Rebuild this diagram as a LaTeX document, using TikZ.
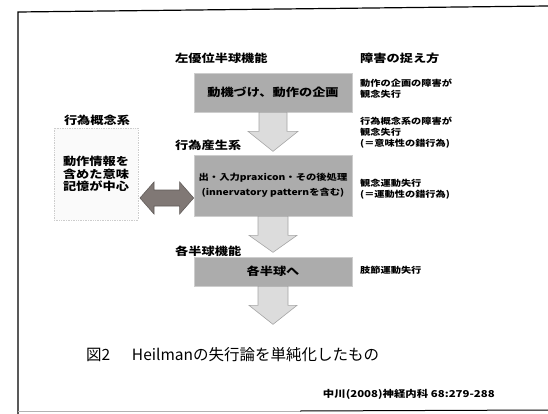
\documentclass[tikz,border=0pt]{standalone}
\usepackage{fontspec}
\setmainfont{Noto Sans CJK JP}[FakeStretch=1.2]
\newfontfamily\capfont{Noto Sans CJK JP}
\newfontfamily\narrowfont{Noto Sans CJK JP}[FakeStretch=1.0]
\usetikzlibrary{calc}
\definecolor{boxgray}{RGB}{172,172,172}
\definecolor{boxedge}{RGB}{205,205,205}
\definecolor{arrfill}{RGB}{220,220,220}
\definecolor{arredge}{RGB}{165,165,165}
\definecolor{darr}{RGB}{128,120,117}
\definecolor{darredge}{RGB}{95,90,88}
\begin{document}
\begin{tikzpicture}[x=1pt,y=-1pt,
  graybox/.style={draw=boxedge, fill=boxgray, line width=0.7pt, inner sep=0pt, align=center,
    font=\fontsize{11}{13}\selectfont\bfseries},
  lbox/.style={draw=boxedge, densely dotted, fill=gray!4, line width=0.7pt, inner sep=0pt, align=center,
    font=\fontsize{11}{12.5}\selectfont\bfseries},
  lbl/.style={inner sep=0pt, anchor=west, font=\fontsize{11}{13}\selectfont\bfseries},
  small/.style={inner sep=0pt, anchor=north west, align=left, font=\fontsize{8.5}{11}\selectfont\bfseries},
  blockarr/.style={draw=arredge, fill=arrfill, line width=0.6pt, line join=miter},
  pics/downarrow/.style n args={4}{code={
    \draw[blockarr] (-#1,0) -- (-#1,#2) -- (-#4,#2) -- (0,#3) -- (#4,#2) -- (#1,#2) -- (#1,0) -- cycle;}}
]
\useasboundingbox (0,0) rectangle (548,414);
% frame
\draw[line width=1.2pt] (548,6) -- (18,12) -- (18,414);
\draw[line width=0.8pt, gray!60] (18,411) -- (300,411);
\draw[line width=1pt] (300,411) -- (548,410);

% main boxes
\node[graybox, minimum width=158pt, minimum height=39pt] (b1) at (273,92.5) {動機づけ、動作の企画};
\node[graybox, minimum width=158pt, minimum height=61pt,
  font=\fontsize{8.6}{15}\selectfont\bfseries] (b2) at (273,185.5)
  {出・入力praxicon・その後処理\\(innervatory patternを含む)};
\node[graybox, minimum width=158pt, minimum height=29pt] (b3) at (273,271.5) {各半球へ};

% block arrows
\pic at (b1.south) {downarrow={14}{19}{39}{25}};
\pic at (b2.south) {downarrow={15}{19}{36}{24}};
\pic at (b3.south) {downarrow={15}{19}{38}{24}};

% left box
\node[lbox, minimum width=84pt, minimum height=92pt] (lb) at (96,174) {動作情報を\\含めた意味\\記憶が中心};

% double arrow
\coordinate (dl) at (140,198);
\coordinate (dr) at (b2.west |- dl);
\draw[fill=darr, draw=darredge, line width=0.6pt]
  (dl) -- ++(14,-16) -- ++(0,8) -- ($(dr)+(-14,-8)$) -- ++(0,-8) -- (dr)
  -- ++(-14,16) -- ++(0,-8) -- ($(dl)+(14,8)$) -- ++(0,8) -- cycle;

% labels
\node[lbl] (l1) at (175,58) {左優位半球機能};
\node[lbl] (l2) at (175,145) {行為産生系};
\node[lbl] (l3) at (175,251) {各半球機能};
\node[lbl, anchor=center] (l4) at (97,120) {行為概念系};
\node[lbl] (r0) at (360,58) {障害の捉え方};
\node[small] (r1) at (360,79) {動作の企画の障害が\\観念失行};
\node[small] (r2) at (360,117) {行為概念系の障害が\\観念失行\\(＝意味性の錯行為)};
\node[small] (r3) at (360,179) {観念運動失行\\(＝運動性の錯行為)};
\node[small, anchor=west] (r4) at (360,270) {肢節運動失行};

% caption
\node[inner sep=0pt, anchor=west, font=\capfont\fontsize{15.5}{18}\selectfont] (cap) at (86,355)
  {図2\hspace{1.4em}Heilmanの失行論を単純化したもの};
\node[inner sep=0pt, anchor=east, font=\fontsize{9.5}{11}\selectfont\bfseries] (cit) at (495,394)
  {中川(2008)神経内科 68:279-288};
\end{tikzpicture}
\end{document}
